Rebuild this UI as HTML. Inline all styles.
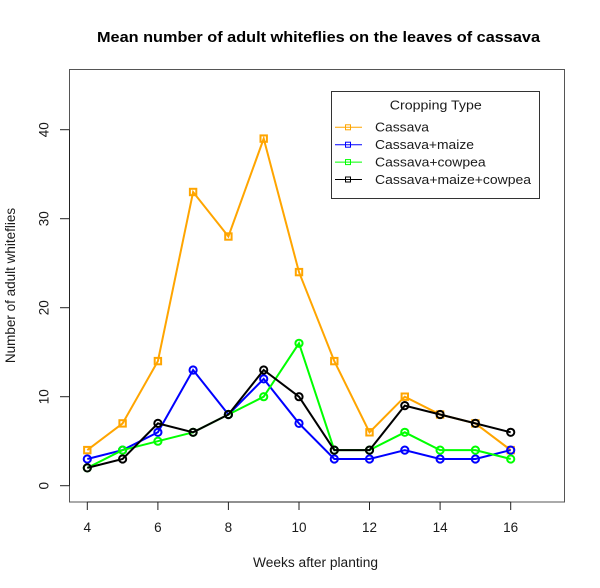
<!DOCTYPE html>
<html>
<head>
<meta charset="utf-8">
<style>
html,body{margin:0;padding:0;background:#fff;}
svg{display:block;}
text{font-family:"Liberation Sans",Arial,sans-serif;fill:#1a1a1a;}
</style>
</head>
<body>
<svg width="600" height="588" viewBox="0 0 600 588" xmlns="http://www.w3.org/2000/svg">
<rect width="600" height="588" fill="#fff"/>
<!-- title -->
<text x="318.5" y="42" font-size="14.5" font-weight="bold" text-anchor="middle" textLength="443" lengthAdjust="spacingAndGlyphs" style="fill:#000">Mean number of adult whiteflies on the leaves of cassava</text>

<!-- plot box -->
<rect x="69.5" y="69.5" width="495" height="432.5" fill="none" stroke="#555" stroke-width="1"/>

<!-- y axis -->
<line x1="69.5" y1="485.7" x2="69.5" y2="129.7" stroke="#222" stroke-width="1"/>
<g stroke="#222" stroke-width="1">
<line x1="60" y1="485.7" x2="69.5" y2="485.7"/>
<line x1="60" y1="396.7" x2="69.5" y2="396.7"/>
<line x1="60" y1="307.7" x2="69.5" y2="307.7"/>
<line x1="60" y1="218.7" x2="69.5" y2="218.7"/>
<line x1="60" y1="129.7" x2="69.5" y2="129.7"/>
</g>
<g font-size="13.5" text-anchor="middle">
<text transform="translate(48.5,485.7) rotate(-90)">0</text>
<text transform="translate(48.5,396.7) rotate(-90)">10</text>
<text transform="translate(48.5,307.7) rotate(-90)">20</text>
<text transform="translate(48.5,218.7) rotate(-90)">30</text>
<text transform="translate(48.5,129.7) rotate(-90)">40</text>
</g>

<!-- x axis -->
<line x1="87.3" y1="502" x2="510.7" y2="502" stroke="#222" stroke-width="1"/>
<g stroke="#222" stroke-width="1">
<line x1="87.3" y1="502" x2="87.3" y2="510"/>
<line x1="157.9" y1="502" x2="157.9" y2="510"/>
<line x1="228.4" y1="502" x2="228.4" y2="510"/>
<line x1="299.0" y1="502" x2="299.0" y2="510"/>
<line x1="369.5" y1="502" x2="369.5" y2="510"/>
<line x1="440.1" y1="502" x2="440.1" y2="510"/>
<line x1="510.7" y1="502" x2="510.7" y2="510"/>
</g>
<g font-size="13.5" text-anchor="middle">
<text x="87.3" y="532">4</text>
<text x="157.9" y="532">6</text>
<text x="228.4" y="532">8</text>
<text x="299.0" y="532">10</text>
<text x="369.5" y="532">12</text>
<text x="440.1" y="532">14</text>
<text x="510.7" y="532">16</text>
</g>

<!-- axis titles -->
<text x="315.5" y="567" font-size="13.5" text-anchor="middle" textLength="125" lengthAdjust="spacingAndGlyphs">Weeks after planting</text>
<text transform="translate(15,285.5) rotate(-90)" font-size="13.5" text-anchor="middle">Number of adult whiteflies</text>

<!-- Cassava (orange, squares) -->
<g stroke="#FFA500" stroke-width="2" fill="none">
<polyline points="87.3,450.1 122.6,423.4 157.9,361.1 193.1,192.0 228.4,236.5 263.7,138.6 299.0,272.1 334.3,361.1 369.5,432.3 404.8,396.7 440.1,414.5 475.4,423.4 510.7,450.1"/>
<rect x="84.1" y="446.9" width="6.4" height="6.4"/>
<rect x="119.4" y="420.2" width="6.4" height="6.4"/>
<rect x="154.7" y="357.9" width="6.4" height="6.4"/>
<rect x="189.9" y="188.8" width="6.4" height="6.4"/>
<rect x="225.2" y="233.3" width="6.4" height="6.4"/>
<rect x="260.5" y="135.4" width="6.4" height="6.4"/>
<rect x="295.8" y="268.9" width="6.4" height="6.4"/>
<rect x="331.1" y="357.9" width="6.4" height="6.4"/>
<rect x="366.3" y="429.1" width="6.4" height="6.4"/>
<rect x="401.6" y="393.5" width="6.4" height="6.4"/>
<rect x="436.9" y="411.3" width="6.4" height="6.4"/>
<rect x="472.2" y="420.2" width="6.4" height="6.4"/>
<rect x="507.5" y="446.9" width="6.4" height="6.4"/>
</g>

<!-- Cassava+maize (blue) -->
<g stroke="#0000FF" stroke-width="2" fill="none">
<polyline points="87.3,459.0 122.6,450.1 157.9,432.3 193.1,370.0 228.4,414.5 263.7,378.9 299.0,423.4 334.3,459.0 369.5,459.0 404.8,450.1 440.1,459.0 475.4,459.0 510.7,450.1"/>
<circle cx="87.3" cy="459.0" r="3.6"/>
<circle cx="122.6" cy="450.1" r="3.6"/>
<circle cx="157.9" cy="432.3" r="3.6"/>
<circle cx="193.1" cy="370.0" r="3.6"/>
<circle cx="228.4" cy="414.5" r="3.6"/>
<circle cx="263.7" cy="378.9" r="3.6"/>
<circle cx="299.0" cy="423.4" r="3.6"/>
<circle cx="334.3" cy="459.0" r="3.6"/>
<circle cx="369.5" cy="459.0" r="3.6"/>
<circle cx="404.8" cy="450.1" r="3.6"/>
<circle cx="440.1" cy="459.0" r="3.6"/>
<circle cx="475.4" cy="459.0" r="3.6"/>
<circle cx="510.7" cy="450.1" r="3.6"/>
</g>

<!-- Cassava+cowpea (green) -->
<g stroke="#00FF00" stroke-width="2" fill="none">
<polyline points="87.3,467.9 122.6,450.1 157.9,441.2 193.1,432.3 228.4,414.5 263.7,396.7 299.0,343.3 334.3,450.1 369.5,450.1 404.8,432.3 440.1,450.1 475.4,450.1 510.7,459.0"/>
<circle cx="87.3" cy="467.9" r="3.6"/>
<circle cx="122.6" cy="450.1" r="3.6"/>
<circle cx="157.9" cy="441.2" r="3.6"/>
<circle cx="193.1" cy="432.3" r="3.6"/>
<circle cx="228.4" cy="414.5" r="3.6"/>
<circle cx="263.7" cy="396.7" r="3.6"/>
<circle cx="299.0" cy="343.3" r="3.6"/>
<circle cx="334.3" cy="450.1" r="3.6"/>
<circle cx="369.5" cy="450.1" r="3.6"/>
<circle cx="404.8" cy="432.3" r="3.6"/>
<circle cx="440.1" cy="450.1" r="3.6"/>
<circle cx="475.4" cy="450.1" r="3.6"/>
<circle cx="510.7" cy="459.0" r="3.6"/>
</g>

<!-- Cassava+maize+cowpea (black) -->
<g stroke="#000" stroke-width="2" fill="none">
<polyline points="87.3,467.9 122.6,459.0 157.9,423.4 193.1,432.3 228.4,414.5 263.7,370.0 299.0,396.7 334.3,450.1 369.5,450.1 404.8,405.6 440.1,414.5 475.4,423.4 510.7,432.3"/>
<circle cx="87.3" cy="467.9" r="3.6"/>
<circle cx="122.6" cy="459.0" r="3.6"/>
<circle cx="157.9" cy="423.4" r="3.6"/>
<circle cx="193.1" cy="432.3" r="3.6"/>
<circle cx="228.4" cy="414.5" r="3.6"/>
<circle cx="263.7" cy="370.0" r="3.6"/>
<circle cx="299.0" cy="396.7" r="3.6"/>
<circle cx="334.3" cy="450.1" r="3.6"/>
<circle cx="369.5" cy="450.1" r="3.6"/>
<circle cx="404.8" cy="405.6" r="3.6"/>
<circle cx="440.1" cy="414.5" r="3.6"/>
<circle cx="475.4" cy="423.4" r="3.6"/>
<circle cx="510.7" cy="432.3" r="3.6"/>
</g>

<!-- legend -->
<rect x="331.5" y="91.5" width="208" height="107" fill="#fff" stroke="#333" stroke-width="1"/>
<text x="435.8" y="109.3" font-size="13" text-anchor="middle" textLength="92" lengthAdjust="spacingAndGlyphs">Cropping Type</text>
<g stroke-width="1" fill="none">
<line x1="335" y1="127.3" x2="362" y2="127.3" stroke="#FFA500"/>
<rect x="345.5" y="124.8" width="5" height="5" stroke="#FFA500"/>
<line x1="335" y1="144.7" x2="362" y2="144.7" stroke="#0000FF"/>
<rect x="345.5" y="142.2" width="5" height="5" stroke="#0000FF"/>
<line x1="335" y1="162.1" x2="362" y2="162.1" stroke="#00FF00"/>
<rect x="345.5" y="159.6" width="5" height="5" stroke="#00FF00"/>
<line x1="335" y1="179.5" x2="362" y2="179.5" stroke="#000"/>
<rect x="345.5" y="177" width="5" height="5" stroke="#000"/>
</g>
<g font-size="13">
<text x="375" y="131.7" textLength="54" lengthAdjust="spacingAndGlyphs">Cassava</text>
<text x="375" y="149.1" textLength="99" lengthAdjust="spacingAndGlyphs">Cassava+maize</text>
<text x="375" y="166.5" textLength="110.7" lengthAdjust="spacingAndGlyphs">Cassava+cowpea</text>
<text x="375" y="183.9" textLength="156" lengthAdjust="spacingAndGlyphs">Cassava+maize+cowpea</text>
</g>
</svg>
</body>
</html>
